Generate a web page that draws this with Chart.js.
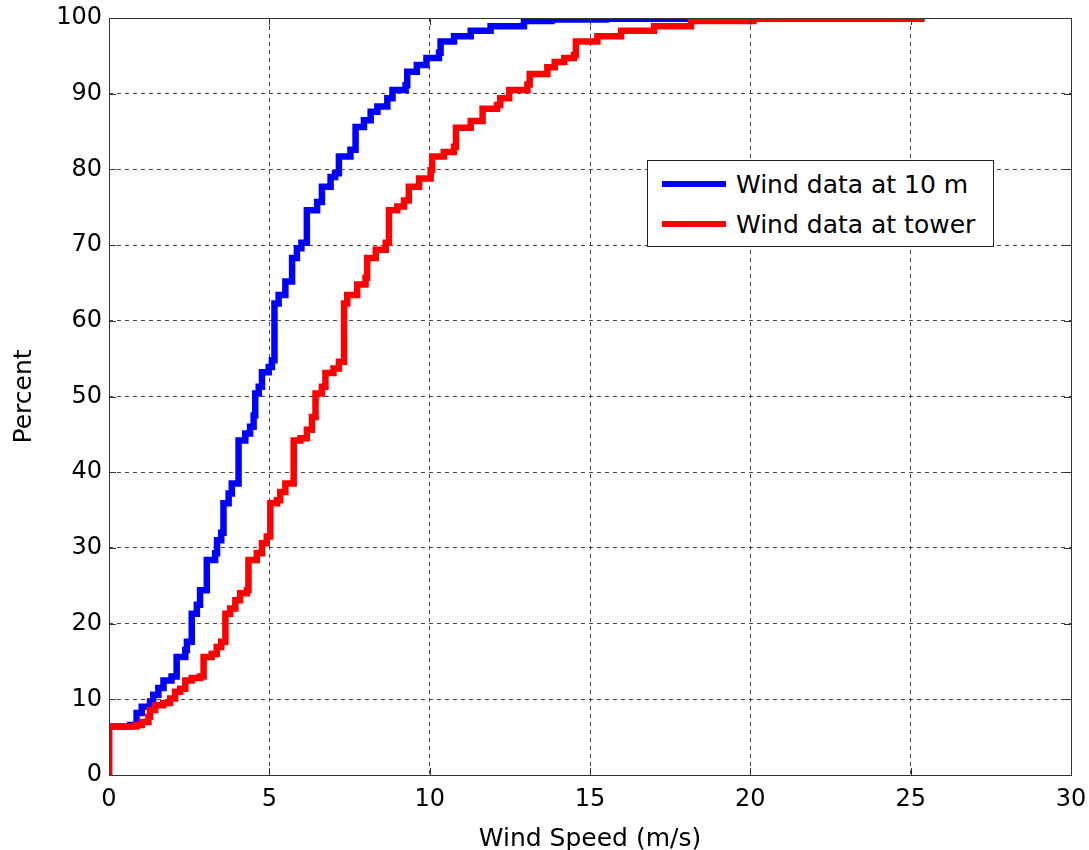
<!DOCTYPE html>
<html>
<head>
<meta charset="utf-8">
<script src="https://cdn.jsdelivr.net/npm/chart.js@4.4.0/dist/chart.umd.min.js"></script>
<style>
  html, body { margin: 0; padding: 0; background: #fff; }
  #wrap { position: relative; width: 1089px; height: 850px; }
  #legend {
    position: absolute; left: 647px; top: 160px; width: 347px; height: 87px;
    border: 1px solid #222; background: #fff; box-sizing: border-box;
    font-family: "DejaVu Sans", sans-serif; font-size: 25px; color: #000;
  }
  .item { position: absolute; left: 14px; height: 30px; display: flex; align-items: center; white-space: nowrap; }
  .swatch { width: 64px; height: 6px; margin-right: 10px; }
</style>
</head>
<body>
<div id="wrap">
  <canvas id="cdfChart" width="1089" height="850"></canvas>
  <div id="legend"></div>
</div>
<script>
// Wind speed (m/s) and cumulative percent
const tenMeterSpeed = [0, 0, 0.66, 0.86, 1.02, 1.28, 1.38, 1.54, 1.70, 1.95, 2.11, 2.38, 2.43, 2.58, 2.74, 2.84,
  3.05, 3.31, 3.37, 3.50, 3.57, 3.73, 3.83, 4.04, 4.25, 4.40, 4.51, 4.56, 4.67, 4.77, 4.98, 5.08, 5.16,
  5.29, 5.50, 5.71, 5.86, 6.00, 6.17, 6.49, 6.64, 6.91, 7.05, 7.17, 7.53, 7.69, 7.95, 8.16, 8.37, 8.68,
  8.84, 9.25, 9.30, 9.60, 9.90, 10.29, 10.34, 10.76, 11.28, 11.90, 12.94, 13.8, 15.5, 18.05];
const tenMeterPercent = [0, 6.4, 6.6, 8.2, 9.0, 9.7, 10.6, 11.5, 12.5, 13.0, 15.6, 16.5, 17.6, 21.3, 22.5, 24.4,
  28.4, 29.3, 31.0, 32.0, 35.9, 37.2, 38.5, 44.2, 45.1, 46.0, 47.5, 50.4, 51.3, 53.2, 53.9, 54.8, 62.3,
  63.4, 65.2, 68.3, 69.6, 70.3, 74.6, 75.7, 77.7, 79.0, 79.5, 81.7, 82.6, 85.6, 86.5, 87.6, 88.3, 89.4,
  90.5, 91.1, 92.9, 93.8, 94.7, 95.4, 96.9, 97.6, 98.3, 98.9, 99.6, 99.8, 99.9, 100];

const towerSpeed = [0, 0, 0.86, 1.02, 1.23, 1.28, 1.44, 1.69, 1.91, 2.06, 2.22, 2.38, 2.58, 2.84, 2.95, 3.20,
  3.36, 3.50, 3.63, 3.78, 3.94, 4.09, 4.30, 4.35, 4.61, 4.77, 4.92, 5.03, 5.24, 5.34, 5.50, 5.76, 5.97,
  6.17, 6.33, 6.44, 6.64, 6.75, 7.00, 7.17, 7.33, 7.43, 7.74, 8.00, 8.05, 8.32, 8.63, 8.73, 8.99, 9.20,
  9.35, 9.67, 10.03, 10.08, 10.44, 10.76, 10.82, 11.28, 11.65, 12.10, 12.20, 12.48, 13.05, 13.12, 13.67,
  13.9, 14.2, 14.5, 14.56, 15.23, 15.97, 17.0, 18.15, 20.1, 25.34];
const towerPercent = [0, 6.4, 6.6, 7.0, 7.7, 8.6, 9.2, 9.5, 10.1, 11.0, 11.4, 12.5, 12.8, 13.0, 15.6, 16.0,
  16.9, 17.6, 21.3, 22.0, 23.1, 24.0, 24.4, 28.4, 29.3, 30.6, 31.5, 35.9, 36.3, 37.4, 38.5, 44.2, 44.5,
  45.6, 47.3, 50.4, 51.3, 53.1, 53.7, 54.6, 62.3, 63.4, 64.8, 65.7, 68.3, 69.4, 70.3, 74.6, 75.1, 75.9,
  77.7, 78.8, 79.9, 81.7, 82.3, 83.0, 85.5, 86.4, 88.0, 88.5, 89.4, 90.5, 91.2, 92.6, 93.5,
  94.2, 94.7, 95.1, 96.9, 97.6, 98.3, 98.9, 99.6, 99.9, 100];

const seriesLabels = ['Wind data at 10 m', 'Wind data at tower'];
const seriesColors = ['#0000ff', '#ff0000'];

function toPoints(xs, ys) {
  return xs.map((x, i) => ({ x: x, y: ys[i] }));
}

// рамка вокруг области графика + внутренние засечки как в MATLAB
const boxPlugin = {
  id: 'box',
  afterDraw(chart) {
    const { ctx, chartArea: a, scales } = chart;
    ctx.save();
    ctx.strokeStyle = '#333';
    ctx.lineWidth = 1;
    ctx.beginPath();
    scales.x.ticks.forEach(t => {
      const px = Math.round(scales.x.getPixelForValue(t.value)) + 0.5;
      ctx.moveTo(px, a.bottom); ctx.lineTo(px, a.bottom - 7);
      ctx.moveTo(px, a.top); ctx.lineTo(px, a.top + 7);
    });
    scales.y.ticks.forEach(t => {
      const py = Math.round(scales.y.getPixelForValue(t.value)) + 0.5;
      ctx.moveTo(a.left, py); ctx.lineTo(a.left + 7, py);
      ctx.moveTo(a.right, py); ctx.lineTo(a.right - 7, py);
    });
    ctx.stroke();
    ctx.strokeRect(Math.round(a.left) + 0.5, Math.round(a.top) + 0.5,
      Math.round(a.right - a.left), Math.round(a.bottom - a.top));
    ctx.restore();
  }
};

const font = { family: '"DejaVu Sans", sans-serif', size: 24 };
const titleFont = { family: '"DejaVu Sans", sans-serif', size: 25 };

const chart = new Chart(document.getElementById('cdfChart'), {
  type: 'line',
  data: {
    datasets: [
      { label: seriesLabels[0], data: toPoints(tenMeterSpeed, tenMeterPercent), borderColor: seriesColors[0], order: 1 },
      { label: seriesLabels[1], data: toPoints(towerSpeed, towerPercent), borderColor: seriesColors[1], order: 0 }
    ]
  },
  options: {
    responsive: false,
    animation: false,
    layout: { padding: { top: 18, right: 18, left: 0, bottom: 0 } },
    elements: {
      line: { stepped: 'before', borderWidth: 6.5, borderJoinStyle: 'miter', borderCapStyle: 'butt', fill: false },
      point: { radius: 0 }
    },
    plugins: { legend: { display: false }, tooltip: { enabled: false } },
    scales: {
      x: {
        type: 'linear', min: 0, max: 30,
        ticks: { stepSize: 5, color: '#000', font: font, padding: 10, maxRotation: 0 },
        grid: { color: '#444', lineWidth: 1, drawTicks: false },
        border: { display: false, dash: [4, 4] },
        title: { display: true, text: 'Wind Speed (m/s)', color: '#000', font: titleFont, padding: { top: 4, bottom: -4 } },
        afterFit: s => { s.height = 75; s.paddingLeft = 0; s.paddingRight = 0; }
      },
      y: {
        min: 0, max: 100,
        ticks: { stepSize: 10, color: '#000', font: font, padding: 7 },
        grid: { color: '#444', lineWidth: 1, drawTicks: false },
        border: { display: false, dash: [4, 4] },
        title: { display: true, text: 'Percent', color: '#000', font: titleFont, padding: { top: 9, bottom: 0 } },
        afterFit: s => { s.width = 109; s.paddingTop = 0; s.paddingBottom = 0; }
      }
    }
  },
  plugins: [boxPlugin]
});

// легенда поверх графика
const legendEl = document.getElementById('legend');
chart.data.datasets.forEach((ds, i) => {
  const item = document.createElement('div');
  item.className = 'item';
  item.style.top = (8 + i * 40) + 'px';
  item.innerHTML = `<span class="swatch" style="background:${ds.borderColor}"></span><span>${ds.label}</span>`;
  legendEl.appendChild(item);
});
</script>
</body>
</html>
